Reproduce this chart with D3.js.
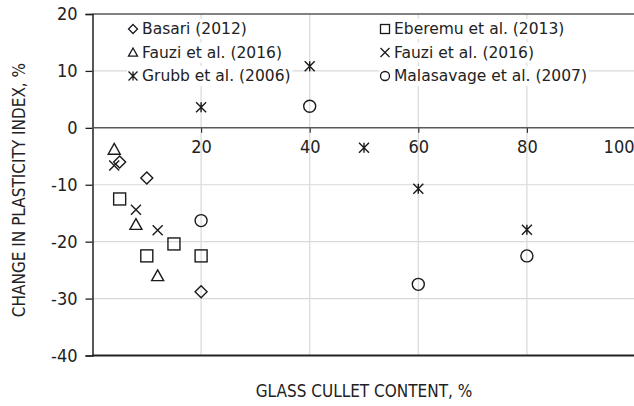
<!DOCTYPE html>
<html>
<head>
<meta charset="utf-8">
<script src="https://cdn.jsdelivr.net/npm/d3@7"></script>
<style>
  html, body { margin: 0; padding: 0; background: #fff; }
  svg { display: block; }
  text { fill: #222; }
</style>
</head>
<body>
<svg id="chart" width="634" height="406"></svg>
<script>
// Plasticity index change versus glass cullet content, by study
const basari      = [[5, -6.0], [10, -8.8], [20, -28.8]];
const eberemu     = [[5, -12.5], [10, -22.5], [15, -20.4], [20, -22.5]];
const fauziTri    = [[4, -3.8], [8, -17.0], [12, -26.0]];
const fauziX      = [[4, -6.6], [8, -14.4], [12, -18.0]];
const grubb       = [[20, 3.6], [40, 10.8], [50, -3.5], [60, -10.7], [80, -17.9]];
const malasavage  = [[20, -16.3], [40, 3.8], [60, -27.5], [80, -22.5]];

const seriesNames = ["Basari (2012)", "Eberemu et al. (2013)", "Fauzi et al. (2016)",
                     "Fauzi et al. (2016)", "Grubb et al. (2006)", "Malasavage et al. (2007)"];
const seriesShapes = ["diamond", "square", "triangle", "cross", "star", "circle"];
const seriesData = [basari, eberemu, fauziTri, fauziX, grubb, malasavage];

const xTicks = [20, 40, 60, 80, 100];
const yTicks = [20, 10, 0, -10, -20, -30, -40];
const xTitle = "GLASS CULLET CONTENT, %";
const yTitle = "CHANGE IN PLASTICITY INDEX, %";

const tickFont = "'DejaVu Sans Condensed', 'DejaVu Sans', sans-serif";
const legendFont = "'DejaVu Sans', sans-serif";
const titleFont = "'DejaVu Sans Condensed', 'DejaVu Sans', sans-serif";

const svg = d3.select("#chart");
const x = d3.scaleLinear().domain([0, 100]).range([92.5, 635.5]);
const y = d3.scaleLinear().domain([-40, 20]).range([355.5, 14]);

const right = 634;

// Marker shapes
function drawMarker(sel, shape, s) {
  const h = s / 2;
  if (shape === "square") {
    sel.append("rect").attr("x", -h).attr("y", -h).attr("width", s).attr("height", s);
  } else if (shape === "circle") {
    sel.append("circle").attr("r", h);
  } else if (shape === "diamond") {
    sel.append("path").attr("d", `M0,${-h}L${h},0L0,${h}L${-h},0Z`);
  } else if (shape === "triangle") {
    sel.append("path").attr("d", `M0,${-h}L${h},${h * 0.8}L${-h},${h * 0.8}Z`);
  } else if (shape === "cross") {
    sel.append("path").attr("d", `M${-h},${-h}L${h},${h}M${h},${-h}L${-h},${h}`);
  } else if (shape === "star") {
    sel.append("path").attr("d", `M${-h},${-h}L${h},${h}M${h},${-h}L${-h},${h}M0,${-h}L0,${h}`);
  }
}

// Gridlines
const g = svg.append("g");
g.selectAll("line.vg").data([20, 40, 60, 80]).join("line")
  .attr("x1", d => x(d)).attr("x2", d => x(d))
  .attr("y1", y(20)).attr("y2", y(-40))
  .attr("stroke", "#d9d9d9").attr("stroke-width", 1.2);
g.selectAll("line.hg").data([10, -10, -20, -30]).join("line")
  .attr("x1", x(0)).attr("x2", right)
  .attr("y1", d => y(d)).attr("y2", d => y(d))
  .attr("stroke", "#d9d9d9").attr("stroke-width", 1.2);

// Top frame line and bottom frame line
svg.append("line").attr("x1", x(0)).attr("x2", right)
  .attr("y1", y(20)).attr("y2", y(20)).attr("stroke", "#595959").attr("stroke-width", 1.5);
svg.append("line").attr("x1", x(0)).attr("x2", right)
  .attr("y1", y(-40)).attr("y2", y(-40)).attr("stroke", "#222").attr("stroke-width", 1.8);

// Legend, two columns with white backing over the gridlines
const legendCols = [133, 385];
const legendRows = [29, 52.5, 76];
const legend = svg.append("g");
seriesNames.forEach((name, i) => {
  const cx = legendCols[i % 2];
  const cy = legendRows[Math.floor(i / 2)];
  const item = legend.append("g").attr("transform", `translate(${cx},${cy})`);
  const bg = item.append("rect").attr("fill", "#fff");
  const m = item.append("g").attr("fill", "none").attr("stroke", "#1a1a1a").attr("stroke-width", 1.3);
  drawMarker(m, seriesShapes[i], 9);
  const t = item.append("text").attr("x", 9).attr("y", 0).attr("dy", "0.35em")
    .attr("font-size", 15.5).style("font-family", legendFont).text(name);
  const w = t.node().getComputedTextLength();
  bg.attr("x", -6).attr("y", -10).attr("width", w + 17).attr("height", 20);
});

// Y axis
const yAxis = d3.axisLeft(y).tickValues(yTicks).tickFormat(d => String(d))
  .tickSize(7).tickPadding(8);
const ya = svg.append("g").attr("transform", `translate(${x(0)},0)`).call(yAxis);
ya.select(".domain").attr("stroke", "#222").attr("stroke-width", 1.5);
ya.selectAll(".tick line").attr("stroke", "#222").attr("stroke-width", 1.3);
ya.selectAll(".tick text").attr("font-size", 18).attr("fill", "#222")
  .style("font-family", tickFont);

// X axis along zero
const xAxis = d3.axisBottom(x).tickValues(xTicks).tickFormat(d => String(d))
  .tickSize(5).tickPadding(7);
const xa = svg.append("g").attr("transform", `translate(0,${y(0)})`).call(xAxis);
xa.select(".domain").remove();
xa.append("line").attr("x1", x(0)).attr("x2", right).attr("y1", 0).attr("y2", 0)
  .attr("stroke", "#595959").attr("stroke-width", 1.5);
xa.selectAll(".tick line").attr("stroke", "#333").attr("stroke-width", 1.2);
xa.selectAll(".tick text").attr("font-size", 18).attr("fill", "#222")
  .style("font-family", tickFont);
// keep the last label inside the frame
xa.selectAll(".tick text").filter(d => d === 100)
  .attr("text-anchor", "end").attr("x", right - x(100));

const marks = svg.append("g").attr("fill", "none").attr("stroke", "#1a1a1a").attr("stroke-width", 1.4);
seriesData.forEach((data, i) => {
  data.forEach(d => {
    const m = marks.append("g").attr("transform", `translate(${x(d[0])},${y(d[1])})`);
    drawMarker(m, seriesShapes[i], seriesShapes[i] === "cross" || seriesShapes[i] === "star" ? 10 : 12);
  });
});

// Axis titles
svg.append("text").attr("x", (x(0) + x(100)) / 2).attr("y", 397).attr("text-anchor", "middle")
  .attr("font-size", 17).style("font-family", titleFont).text(xTitle);
svg.append("text").attr("transform", `translate(19,190) rotate(-90)`)
  .attr("text-anchor", "middle").attr("dy", "0.35em").attr("font-size", 17)
  .style("font-family", titleFont).text(yTitle);
</script>
</body>
</html>
